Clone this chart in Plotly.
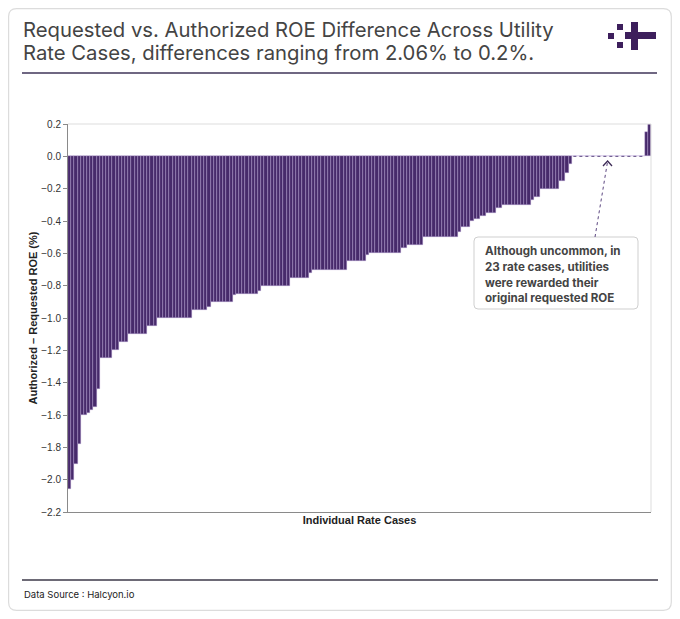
import plotly.graph_objects as go

# ---- data ----
roe_diff = [
    -2.06, -2.00, -1.90, -1.78, -1.60, -1.60, -1.59, -1.57, -1.55, -1.44,
    -1.25, -1.25, -1.25, -1.25, -1.20, -1.20, -1.15, -1.15, -1.15,
    -1.10, -1.10, -1.10, -1.10, -1.10, -1.10, -1.05, -1.05, -1.05,
    -1.00, -1.00, -1.00, -1.00, -1.00, -1.00, -1.00, -1.00, -1.00, -1.00, -1.00,
    -0.95, -0.95, -0.95, -0.95, -0.95, -0.93,
    -0.90, -0.90, -0.90, -0.90, -0.90, -0.90, -0.90, -0.86,
    -0.85, -0.85, -0.85, -0.85, -0.85, -0.85, -0.85, -0.83,
    -0.80, -0.80, -0.80, -0.80, -0.80, -0.80, -0.80, -0.80, -0.80,
    -0.75, -0.75, -0.75, -0.75, -0.75, -0.75, -0.72,
    -0.70, -0.70, -0.70, -0.70, -0.70, -0.70, -0.70, -0.70, -0.70, -0.70, -0.70,
    -0.65, -0.65, -0.65, -0.65, -0.65, -0.65, -0.61,
    -0.60, -0.60, -0.60, -0.60, -0.60, -0.60, -0.60, -0.60, -0.60, -0.60,
    -0.57, -0.57, -0.55, -0.55, -0.55, -0.55, -0.55,
    -0.50, -0.50, -0.50, -0.50, -0.50, -0.50, -0.50, -0.50, -0.50, -0.50, -0.50,
    -0.47, -0.44, -0.44, -0.44, -0.40, -0.39, -0.39, -0.37, -0.37,
    -0.35, -0.35, -0.35, -0.32, -0.32,
    -0.30, -0.30, -0.30, -0.30, -0.30, -0.30, -0.30, -0.30, -0.30,
    -0.27, -0.25, -0.25, -0.20, -0.20, -0.20, -0.20, -0.20, -0.20,
    -0.15, -0.15, -0.10, -0.05,
    0, 0, 0, 0, 0, 0, 0, 0, 0, 0, 0, 0, 0, 0, 0, 0, 0, 0, 0, 0, 0, 0, 0,
    0.15, 0.20,
]
case_index = list(range(1, len(roe_diff) + 1))
zero_cases = [i for i, v in zip(case_index, roe_diff) if v == 0]
zero_values = [0 for _ in zero_cases]

y_ticks = [0.2, 0.0, -0.2, -0.4, -0.6, -0.8, -1.0, -1.2, -1.4, -1.6, -1.8, -2.0, -2.2]

title_lines = [
    "Requested vs. Authorized ROE Difference Across Utility",
    "Rate Cases, differences ranging from 2.06% to 0.2%.",
]
note_lines = [
    "Although uncommon, in",
    "23 rate cases, utilities",
    "were rewarded their",
    "original requested ROE",
]

# ---- layout geometry (page pixels; page body has an 8px margin) ----
OFF = 8
W, H = 680 - 2 * OFF, 619 - 2 * OFF
PLOT_L, PLOT_R, PLOT_T, PLOT_B = 68, 651, 124, 512   # page pixels
L, T = PLOT_L - OFF, PLOT_T - OFF
R, B = W - (PLOT_R - OFF), H - (PLOT_B - OFF)
PW, PH = W - L - R, H - T - B


def px(x):
    return (x - OFF - L) / PW


def py(y):
    return (H - B - (y - OFF)) / PH


PURPLE = "#472a6b"

fig = go.Figure()
fig.add_trace(go.Bar(
    x=case_index, y=roe_diff,
    marker=dict(color=PURPLE, line=dict(color="rgba(190,170,220,0.75)", width=0.5)),
    hoverinfo="y", showlegend=False,
))
fig.add_trace(go.Scatter(
    x=zero_cases, y=zero_values, mode="lines",
    line=dict(color="#5b4680", width=1, dash="dot"),
    hoverinfo="skip", showlegend=False,
))


def rrect(x0, y0, x1, y1, r):
    rx, ry = r / PW, r / PH
    a0, a1 = px(x0), px(x1)
    b0, b1 = py(y0), py(y1)  # b0 top, b1 bottom
    return (f"M{a0+rx},{b0} L{a1-rx},{b0} Q{a1},{b0} {a1},{b0-ry} "
            f"L{a1},{b1+ry} Q{a1},{b1} {a1-rx},{b1} L{a0+rx},{b1} "
            f"Q{a0},{b1} {a0},{b1+ry} L{a0},{b0-ry} Q{a0},{b0} {a0+rx},{b0} Z")


shapes = []
# card border
shapes.append(dict(type="path", xref="paper", yref="paper", path=rrect(8.6, 8.6, 671.3, 610.3, 8),
                   line=dict(color="#dcdcdc", width=1.2), fillcolor="rgba(0,0,0,0)", layer="below"))
# title underline and footer line
shapes.append(dict(type="line", xref="paper", yref="paper", x0=px(22), x1=px(657), y0=py(73), y1=py(73),
                   line=dict(color="#3f3458", width=1.5)))
shapes.append(dict(type="line", xref="paper", yref="paper", x0=px(22), x1=px(658), y0=py(580), y1=py(580),
                   line=dict(color="#3c3848", width=1.5)))
# top/right light plot borders
shapes.append(dict(type="line", xref="paper", yref="paper", x0=0, x1=1, y0=1, y1=1,
                   line=dict(color="#dddddd", width=1)))
shapes.append(dict(type="line", xref="paper", yref="paper", x0=1, x1=1, y0=0, y1=1,
                   line=dict(color="#dddddd", width=1)))
# logo
LOGO = "#3d1f5c"
for (x0, y0, x1, y1) in [(608, 33, 614, 39), (617, 24, 623, 30), (617, 42, 623, 48),
                         (631, 22, 638, 50), (625, 32, 656, 39)]:
    shapes.append(dict(type="rect", xref="paper", yref="paper", x0=px(x0), x1=px(x1),
                       y0=py(y1), y1=py(y0), line=dict(width=0), fillcolor=LOGO))
# annotation box
shapes.append(dict(type="path", xref="paper", yref="paper", path=rrect(474, 237, 638, 309, 4),
                   line=dict(color="#cfcfcf", width=1), fillcolor="white"))
# dotted pointer line and chevron
shapes.append(dict(type="line", xref="paper", yref="paper", x0=px(595), y0=py(237), x1=px(607.5), y1=py(162),
                   line=dict(color="#5b4680", width=1, dash="dot")))
shapes.append(dict(type="path", xref="paper", yref="paper",
                   path=f"M{px(603)},{py(166)} L{px(607.6)},{py(161)} L{px(612)},{py(166)}",
                   line=dict(color="#3d2b56", width=1.3)))

annotations = [
    dict(text=title_lines[0], xref="paper", yref="paper", x=px(21), y=py(30), xanchor="left", yanchor="middle",
         showarrow=False, font=dict(family="Inter", size=20.3, color="#444444")),
    dict(text=title_lines[1], xref="paper", yref="paper", x=px(21), y=py(52), xanchor="left", yanchor="middle",
         showarrow=False, font=dict(family="Inter", size=20.3, color="#444444")),
    dict(text="Data Source : Halcyon.io", xref="paper", yref="paper", x=px(22), y=py(594),
         xanchor="left", yanchor="middle", showarrow=False,
         font=dict(family="Inter", size=9.5, color="#222222")),
]
for line, yy in zip(note_lines, [251, 267, 283, 298]):
    annotations.append(dict(text=f"<b>{line}</b>", xref="paper", yref="paper", x=px(483), y=py(yy),
                            xanchor="left", yanchor="middle", align="left", showarrow=False,
                            font=dict(family="Inter", size=11.6, color="#444444")))

fig.update_layout(
    width=W, height=H,
    margin=dict(l=L, r=R, t=T, b=B),
    paper_bgcolor="white", plot_bgcolor="white",
    bargap=0,
    shapes=shapes, annotations=annotations,
    xaxis=dict(range=[0.5, len(roe_diff) + 0.5], showticklabels=False, ticks="", showgrid=False,
               zeroline=False, showline=True, linecolor="#8a8a8a", linewidth=1,
               title=dict(text="<b>Individual Rate Cases</b>", standoff=4,
                          font=dict(family="Liberation Sans", size=11, color="#222222"))),
    yaxis=dict(range=[-2.2, 0.2], tickvals=y_ticks, tickformat=".1f", ticks="outside", ticklen=4,
               tickcolor="#8a8a8a", showgrid=False, zeroline=False, showline=True,
               linecolor="#8a8a8a", linewidth=1,
               tickfont=dict(family="Liberation Sans", size=10, color="#333333"),
               title=dict(text="<b>Authorized – Requested ROE (%)</b>", standoff=1,
                          font=dict(family="Liberation Sans", size=11, color="#222222"))),
    font=dict(family="Liberation Sans"),
)

fig.write_html("out.html")
